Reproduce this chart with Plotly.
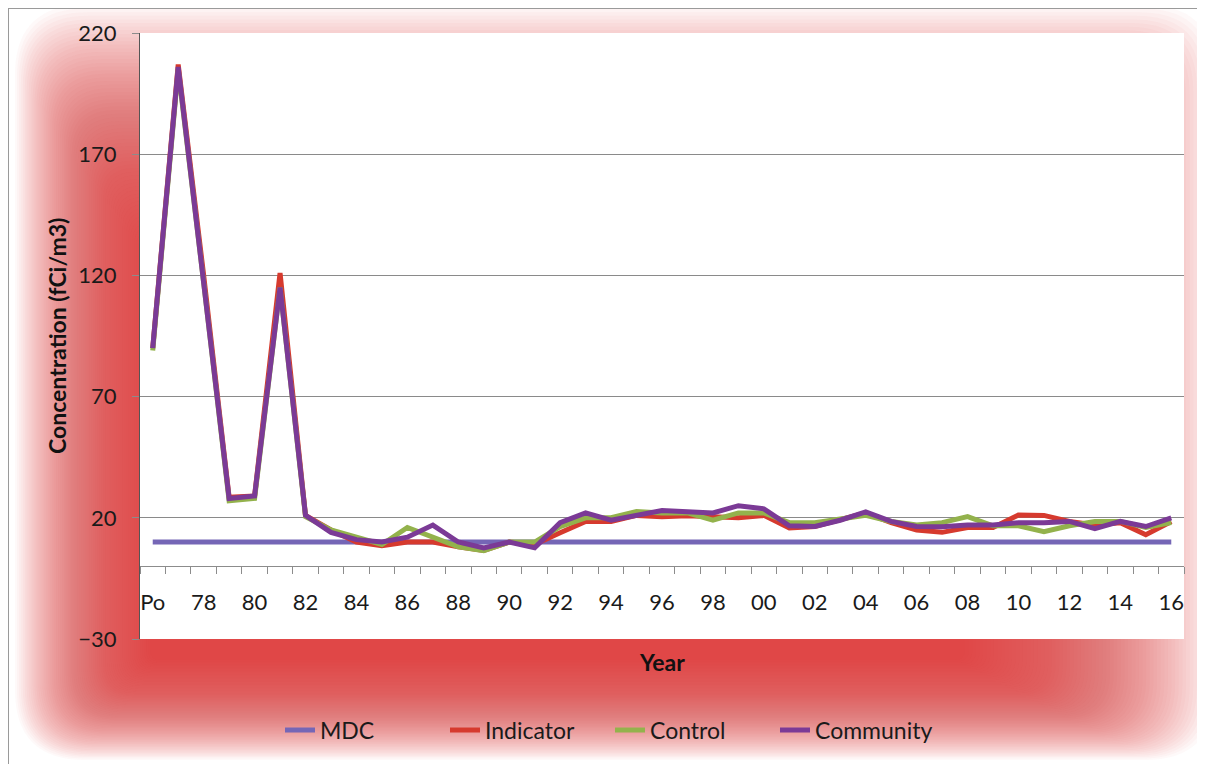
import plotly.graph_objects as go

# ---------------- data ----------------
categories = ["Po", "77", "78", "79", "80", "81", "82", "83", "84", "85", "86", "87",
              "88", "89", "90", "91", "92", "93", "94", "95", "96", "97", "98", "99",
              "00", "01", "02", "03", "04", "05", "06", "07", "08", "09", "10", "11",
              "12", "13", "14", "15", "16"]

mdc = [10] * len(categories)

indicator = [90, 207, 120, 28.5, 29, 121, 21, 15, 10, 8.5, 10, 10, 8, 6.5, 10, 9,
             13.8, 18.5, 18.5, 21, 20.4, 20.8, 20.4, 20, 21, 15.8, 16.4, 19, 22, 18,
             15, 14, 16, 16, 21.2, 21, 18.5, 17, 18, 13, 18.5]

control = [89, 205, 117, 27, 28, 115, 20.5, 15, 12, 9, 16, 12, 8, 6.4, 10, 10,
           16.4, 20, 20, 22.6, 22, 22, 19, 22, 22, 18, 18, 19.5, 21, 18.5,
           17, 18, 20.5, 16.7, 16.7, 14.3, 16.7, 18.5, 18.5, 16, 18]

community = [90, 206, 117, 28, 29, 115, 21, 14, 11, 10, 12, 17, 10, 7.6, 10, 7.6,
             18, 22, 19, 21, 23, 22.5, 22, 25, 23.7, 16.7, 16.4, 19, 22.4, 18.5,
             16.4, 16.3, 17, 17, 18, 18, 18.5, 15.5, 18.5, 16.4, 20]

y_ticks = [-30, 20, 70, 120, 170, 220]

series_names = ["MDC", "Indicator", "Control", "Community"]
series_colors = ["#7566B6", "#D63A2E", "#93B24C", "#7B3A96"]

# ---------------- layout helpers (page pixel coords; page has 8px body margin) ----------------
OFF = 8
W, H = 1205 - OFF, 764 - OFF
PL, PT, PR, PB = 140, 33, 1184, 639          # plot area in page pixels
L, T = PL - OFF, PT - OFF
R, B = W - (PR - OFF), H - (PB - OFF)
PW, PH = PR - PL, PB - PT


def px_x(p):
    return (p - PL) / PW


def px_y(p):
    return (PB - p) / PH


def rounded_rect_path(x0, y0, x1, y1, r):
    r = max(0.0, min(r, (x1 - x0) / 2, (y1 - y0) / 2))
    pts = [
        ("M", (x0 + r, y0)), ("L", (x1 - r, y0)), ("Q", (x1, y0), (x1, y0 + r)),
        ("L", (x1, y1 - r)), ("Q", (x1, y1), (x1 - r, y1)),
        ("L", (x0 + r, y1)), ("Q", (x0, y1), (x0, y1 - r)),
        ("L", (x0, y0 + r)), ("Q", (x0, y0), (x0 + r, y0)),
    ]
    out = []
    for item in pts:
        cmd = item[0]
        coords = " ".join(f"{px_x(px):.5f},{px_y(py):.5f}" for px, py in item[1:])
        out.append(f"{cmd}{coords}")
    return " ".join(out) + " Z"


x_idx = list(range(len(categories)))
label_idx = [i for i in x_idx if i % 2 == 0]
label_txt = [categories[i] for i in label_idx]

fig = go.Figure()
for name, vals, col in zip(series_names, [mdc, indicator, control, community], series_colors):
    fig.add_trace(go.Scatter(x=x_idx, y=vals, mode="lines", name=name,
                             line=dict(color=col, width=5), hoverinfo="skip"))

# ---------------- background glow ----------------
shapes = []
n = 70
outer = (15, 5, 1215, 760)
inner = (150, 255, 965, 660)
for k in range(n):
    f = k / (n - 1)
    x0 = outer[0] + (inner[0] - outer[0]) * f
    y0 = outer[1] + (inner[1] - outer[1]) * f
    x1 = outer[2] + (inner[2] - outer[2]) * f
    y1 = outer[3] + (inner[3] - outer[3]) * f
    r = 10 + 60 * (1 - f)
    shapes.append(dict(type="path", xref="paper", yref="paper",
                       path=rounded_rect_path(x0, y0, x1, y1, r),
                       fillcolor="#E8463A", opacity=0.03, line=dict(width=0),
                       layer="below"))
# white plot area
shapes.append(dict(type="rect", xref="paper", yref="paper", x0=0, x1=1, y0=0, y1=1,
                   fillcolor="white", line=dict(width=0), layer="below"))
# outer frame lines (top and left)
shapes.append(dict(type="line", xref="paper", yref="paper",
                   x0=px_x(OFF), x1=px_x(1215), y0=px_y(OFF + 0.5), y1=px_y(OFF + 0.5),
                   line=dict(color="#9a9a9a", width=1), layer="below"))
shapes.append(dict(type="line", xref="paper", yref="paper",
                   x0=px_x(OFF + 0.5), x1=px_x(OFF + 0.5), y0=px_y(OFF), y1=px_y(780),
                   line=dict(color="#9a9a9a", width=1), layer="below"))

font_family = "Lato, 'Open Sans', sans-serif"

fig.update_layout(
    width=W, height=H, autosize=False,
    margin=dict(l=L, r=R, t=T, b=B, pad=0),
    paper_bgcolor="white", plot_bgcolor="white",
    font=dict(family=font_family, size=22, color="#1a1a1a"),
    showlegend=True,
    legend=dict(orientation="h", x=px_x(280), xanchor="left",
                y=px_y(730), yanchor="middle", bgcolor="rgba(0,0,0,0)",
                font=dict(size=23), entrywidth=120, entrywidthmode="pixels"),
    shapes=shapes,
    xaxis=dict(
        range=[-0.5, len(categories) - 0.5],
        tickmode="array", tickvals=label_idx, ticktext=label_txt,
        ticks="", showgrid=False, zeroline=False,
        showline=True, linecolor="#8c8c8c", linewidth=1,
        anchor="free", position=(0 - y_ticks[0]) / (y_ticks[-1] - y_ticks[0]),
        ticklabelstandoff=16,
        minor=dict(tickmode="linear", tick0=0.5, dtick=1, ticks="outside",
                   ticklen=7, tickcolor="#8c8c8c", tickwidth=1, showgrid=False),
        fixedrange=True,
    ),
    yaxis=dict(
        range=[y_ticks[0], y_ticks[-1]],
        tickmode="array", tickvals=y_ticks,
        ticks="outside", ticklen=7, tickcolor="#8c8c8c",
        showgrid=True, gridcolor="#8a8a8a", gridwidth=1,
        zeroline=False, showline=True, linecolor="#555555", linewidth=1,
        ticklabelstandoff=11, fixedrange=True,
    ),
    annotations=[
        dict(text="<b>Year</b>", xref="paper", yref="paper", x=0.5, y=px_y(662),
             xanchor="center", yanchor="middle", showarrow=False,
             font=dict(size=23, family=font_family, color="#111")),
        dict(text="<b>Concentration (fCi/m3)</b>", xref="paper", yref="paper",
             x=px_x(57), y=0.5, xanchor="center", yanchor="middle", textangle=-90,
             showarrow=False, font=dict(size=23, family=font_family, color="#111")),
    ],
)

fig.write_html("out.html")
